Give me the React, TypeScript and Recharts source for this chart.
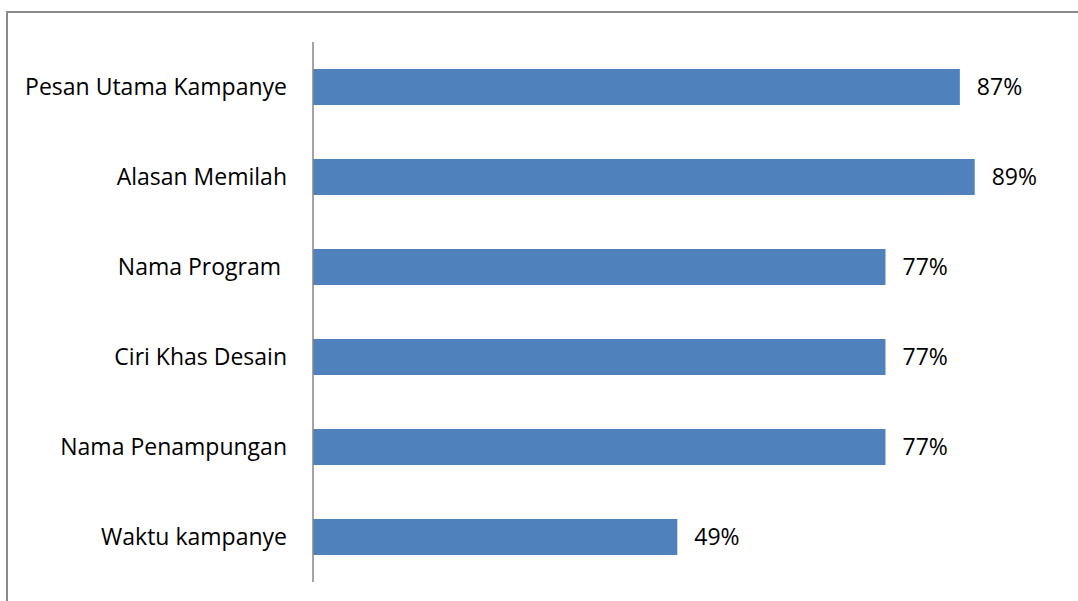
import { BarChart, Bar, XAxis, YAxis, LabelList } from "recharts";

const categories = [
  "Pesan Utama Kampanye",
  "Alasan Memilah",
  "Nama Program ",
  "Ciri Khas Desain",
  "Nama Penampungan",
  "Waktu kampanye",
];
const values = [87, 89, 77, 77, 77, 49];

const data = categories.map((name, i) => ({ name, value: values[i] }));

const FONT = "Open Sans, Noto Sans, sans-serif";

function CategoryTick(props: any) {
  const { x, y, payload } = props;
  return (
    <text
      x={x - 18}
      y={y}
      dy={8}
      textAnchor="end"
      fill="#000"
      fontSize={23}
      fontFamily={FONT}
      style={{ whiteSpace: "pre" }}
    >
      {payload.value}
    </text>
  );
}

export default function App() {
  return (
    <div style={{ position: "absolute", left: 0, top: 0, width: 1078, height: 601, overflow: "hidden", background: "#fff" }}>
      <div
        style={{
          position: "absolute",
          left: 6,
          top: 11,
          width: 1100,
          height: 650,
          border: "2px solid #8a8a8a",
          boxSizing: "border-box",
        }}
      />
      <div style={{ position: "absolute", left: 0, top: 0 }}>
        <BarChart
          width={1078}
          height={601}
          data={data}
          layout="vertical"
          margin={{ top: 42, right: 21.5, bottom: 19, left: 0 }}
          barSize={36}
        >
          <XAxis type="number" domain={[0, 100]} hide />
          <YAxis
            type="category"
            dataKey="name"
            width={313}
            axisLine={{ stroke: "#868686", strokeWidth: 1.5 }}
            tickLine={false}
            tick={<CategoryTick />}
            interval={0}
          />
          <Bar dataKey="value" fill="#4F81BD" isAnimationActive={false}>
            <LabelList
              dataKey="value"
              position="right"
              offset={17}
              formatter={(v: any) => `${v}%`}
              fill="#000"
              fontSize={23}
              fontFamily={FONT}
            />
          </Bar>
        </BarChart>
      </div>
    </div>
  );
}
